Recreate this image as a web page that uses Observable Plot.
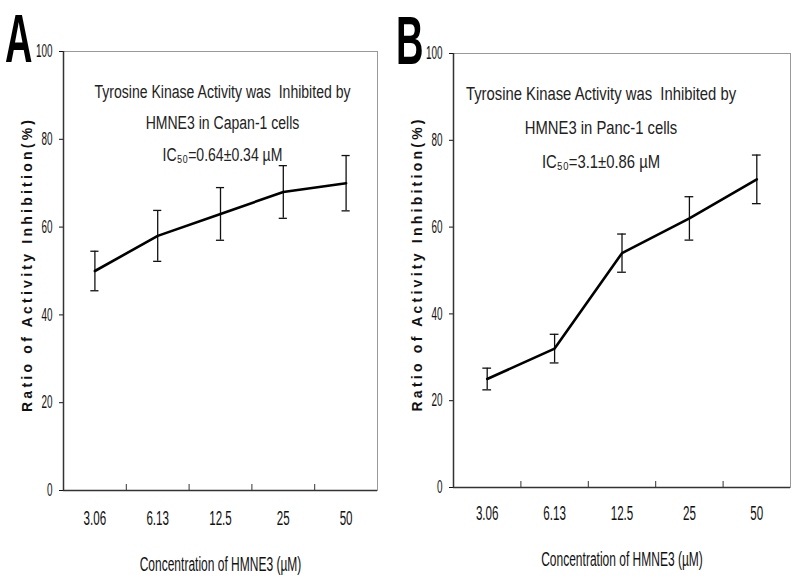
<!DOCTYPE html>
<html>
<head>
<meta charset="utf-8">
<script src="https://cdn.jsdelivr.net/npm/d3@7"></script>
<script src="https://cdn.jsdelivr.net/npm/@observablehq/plot@0.6"></script>
<style>
  body { margin: 0; background: #fff; }
  #wrap { position: relative; width: 796px; height: 582px; overflow: hidden; }
  .panel { position: absolute; top: 0; }
  .letter {
    position: absolute; font: bold 68px "Liberation Sans", Arial, sans-serif;
    line-height: 1; transform: scaleX(0.56); transform-origin: left top;
  }
</style>
</head>
<body>
<div id="wrap">
  <div id="chartA" class="panel" style="left:0"></div>
  <div id="chartB" class="panel" style="left:390px"></div>
  <div class="letter" style="left:5px;top:4px">A</div>
  <div class="letter" style="left:396px;top:6px">B</div>
</div>
<script>
// concentrations of HMNE3 (µM)
const concentrations = ["3.06", "6.13", "12.5", "25", "50"]
const yTicks = [0, 20, 40, 60, 80, 100]

// Capan-1 cells
const capanMean = [50, 58, 63, 68, 70]
const capanErr = [4.5, 5.8, 6, 6, 6.3]
const capanNote = ["Tyrosine Kinase Activity was  Inhibited by", "HMNE3 in Capan-1 cells", "IC₅₀=0.64±0.34 µM"]

// Panc-1 cells
const pancMean = [25, 32, 54, 62, 71]
const pancErr = [2.5, 3.3, 4.4, 5, 5.6]
const pancNote = ["Tyrosine Kinase Activity was  Inhibited by", "HMNE3 in Panc-1 cells", "IC₅₀=3.1±0.86 µM"]

const arial = '"Liberation Sans", Arial, sans-serif'

function grafico(mean, err, note, o) {
  const datos = concentrations.map((c, i) => ({c, i: i + 0.5, v: mean[i], lo: mean[i] - err[i], hi: mean[i] + err[i]}))
  const cap = 0.065
  const frameH = o.height - o.top - o.bottom
  return Plot.plot({
    width: o.width, height: o.height,
    marginLeft: 63, marginRight: o.right, marginTop: o.top, marginBottom: o.bottom,
    style: {fontFamily: arial, fontSize: "18px", color: "#111", background: "white"},
    x: {domain: [0, concentrations.length]},
    y: {domain: [0, 100]},
    marks: [
      Plot.frame({stroke: "#999"}),
      Plot.axisY({ticks: yTicks, tickSize: 4, tickPadding: 7, fontSize: 18, label: null}),
      Plot.ruleX([0], {stroke: "#333", strokeWidth: 1.5}),
      Plot.ruleY([0], {stroke: "#333", strokeWidth: 1.5}),
      // ticks between categories, pointing up
      Plot.ruleX(d3.range(1, concentrations.length), {insetTop: frameH - 6, stroke: "#333"}),
      Plot.axisX(datos.map(d => d.i), {tickSize: 0, tickPadding: o.tickPad, fontSize: 20,
        tickFormat: i => concentrations[Math.floor(i)],
        label: "Concentration of HMNE3 (µM)", labelAnchor: "center", labelOffset: o.labelOff, labelArrow: "none"}),
      Plot.text(["Ratio of Activity Inhibition(%)"], {frameAnchor: "left", textAnchor: "middle", rotate: -90,
        dx: -36, dy: -5, fontWeight: "bold", fontSize: 14}),
      Plot.ruleX(datos, {x: "i", y1: "lo", y2: "hi", strokeWidth: 1.3}),
      Plot.ruleY(datos, {y: "lo", x1: d => d.i - cap, x2: d => d.i + cap, strokeWidth: 1.3}),
      Plot.ruleY(datos, {y: "hi", x1: d => d.i - cap, x2: d => d.i + cap, strokeWidth: 1.3}),
      Plot.line(datos, {x: "i", y: "v", strokeWidth: 2.6, stroke: "black"}),
      Plot.text([note.join("\n")], {frameAnchor: "top", lineAnchor: "top", dx: o.noteDx, dy: o.noteDy,
        lineHeight: o.lineH, fontSize: o.noteSize, fill: "#222"})
    ]
  })
}

// squeeze (or stretch) the texts like the narrow font of the original
function estrechar(svg, sel, k, adjust = "spacingAndGlyphs") {
  d3.select(svg).selectAll(sel).each(function() {
    const n = this.getComputedTextLength()
    this.setAttribute("textLength", n * k)
    this.setAttribute("lengthAdjust", adjust)
  })
}

function montar(id, svg) {
  d3.select(id).append(() => svg)
  estrechar(svg, 'g[aria-label="y-axis tick label"] text', 0.55)
  estrechar(svg, 'g[aria-label="x-axis tick label"] text', 0.58)
  estrechar(svg, 'g[aria-label="x-axis label"] text', 0.6)
  const textos = d3.select(svg).selectAll('g[aria-label="text"]').nodes()
  estrechar(textos[0], "text", 1.5, "spacing")
  estrechar(textos[1], "tspan", 0.78)
}

montar("#chartA", grafico(capanMean, capanErr, capanNote,
  {width: 390, height: 582, right: 13, top: 51, bottom: 92, tickPad: 20, labelOff: 80,
   noteDx: 2, noteDy: 24, lineH: 1.75, noteSize: 18}))
montar("#chartB", grafico(pancMean, pancErr, pancNote,
  {width: 406, height: 582, right: 6, top: 53, bottom: 95, tickPad: 18, labelOff: 78,
   noteDx: -21, noteDy: 22, lineH: 1.8, noteSize: 19}))
</script>
</body>
</html>
